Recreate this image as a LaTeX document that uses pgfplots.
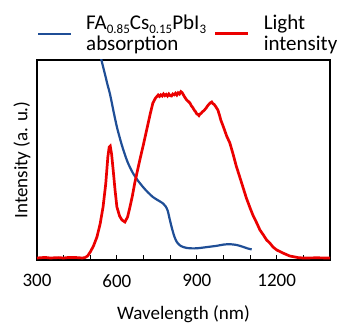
\documentclass[border=0pt]{standalone}
\usepackage{fontspec}
\setmainfont{Carlito}
\usepackage{pgfplots}
\pgfplotsset{compat=1.18}
\definecolor{absblue}{RGB}{31,78,150}
\definecolor{lightred}{RGB}{235,0,0}
\newcommand{\sub}[1]{\raisebox{-3.5pt}{\fontsize{13}{13}\selectfont #1}}
\begin{document}
\begin{tikzpicture}[font=\fontsize{19}{20}\selectfont]
\begin{axis}[
  name=ax,
  scale only axis,
  width=293pt, height=200pt,
  xmin=300, xmax=1400, ymin=0, ymax=1,
  xtick={300,600,900,1200},
  minor xtick={400,500,700,800,1000,1100,1300},
  xtick pos=bottom,
  ytick=\empty,
  tick align=inside,
  major tick length=5pt, minor tick length=5pt,
  every tick/.style={black, line width=0.9pt},
  axis line style={black, line width=1.2pt},
  /pgf/number format/assume math mode=true,
  /pgf/number format/1000 sep={},
  xticklabel style={font=\fontsize{19}{20}\selectfont, yshift=-11pt},
  xlabel={Wavelength (nm)},
  ylabel={Intensity (a. u.)},
  xlabel style={yshift=-11pt},
  ylabel style={yshift=3pt},
  legend columns=2,
  legend style={draw=none, fill=none, at={(axis description cs:0,1)}, anchor=south west,
    inner sep=0pt, outer sep=0pt, yshift=6pt,
    cells={align=left, anchor=west, inner sep=0pt},
    /tikz/every odd column/.append style={column sep=12pt},
    /tikz/every even column/.append style={column sep=6pt},
    font=\fontsize{21}{20.5}\selectfont},
  legend image code/.code={\draw[#1] (0pt,0pt) -- (33pt,0pt);},
]
\addplot[absblue, line width=2.2pt, smooth] coordinates {
(520,1.13) (530,1.075) (542,1.0) (555,0.93) (565,0.875) (574,0.83) (587,0.745) (600,0.665)
(612,0.605) (623,0.555) (640,0.49) (660,0.435) (680,0.395) (698,0.365) (715,0.34)
(735,0.315) (755,0.298) (773,0.283) (783,0.268) (791,0.245) (798,0.205) (806,0.162)
(815,0.12) (825,0.09) (840,0.07) (863,0.06) (890,0.058) (911,0.06) (940,0.065)
(975,0.071) (1000,0.077) (1024,0.079) (1050,0.075) (1073,0.066) (1090,0.058) (1106,0.053)
};
\addlegendentry{FA\sub{0.85}Cs\sub{0.15}PbI\sub{3}\\absorption}
\addplot[lightred, line width=2.7pt] coordinates {
(300,0.01) (330,0.013) (350,0.01) (380,0.012) (400,0.01) (420,0.013) (450,0.012) (470,0.01) (480,0.012)
(490,0.02) (500,0.04) (512,0.07) (525,0.115) (537,0.18) (548,0.265) (558,0.38) (566,0.515)
(571,0.565) (575,0.57) (580,0.53) (586,0.45) (593,0.35) (600,0.265) (610,0.22) (619,0.2)
(630,0.19) (640,0.215) (649,0.265) (658,0.32) (667,0.385) (676,0.44) (686,0.5) (700,0.58)
(715,0.67) (725,0.73) (735,0.785) (745,0.81) (755,0.825) (760,0.818) (765,0.826) (770,0.82) (775,0.83) (780,0.822) (785,0.828)
(790,0.82) (795,0.83) (800,0.822) (805,0.82) (810,0.83) (815,0.826) (820,0.834) (825,0.825) (830,0.836) (835,0.83) (840,0.842) (844,0.838) (848,0.83) (852,0.82) (857,0.81) (862,0.8)
(868,0.793) (874,0.785) (880,0.77) (885,0.762) (890,0.75) (895,0.742) (900,0.73) (904,0.728) (908,0.722) (912,0.73) (916,0.733) (920,0.74) (925,0.745) (930,0.752) (935,0.76) (940,0.77)
(945,0.778) (950,0.785) (956,0.79) (960,0.782) (965,0.778) (972,0.765) (979,0.75) (985,0.725) (990,0.7) (1000,0.665)
(1012,0.62) (1024,0.585) (1036,0.53) (1048,0.47) (1060,0.42) (1073,0.365) (1086,0.31)
(1100,0.26) (1112,0.22) (1125,0.185) (1137,0.15) (1150,0.125) (1162,0.1) (1174,0.085)
(1186,0.065) (1200,0.05) (1223,0.035) (1249,0.02) (1280,0.012) (1300,0.01) (1350,0.011) (1400,0.01)
};
\addlegendentry{Light\\intensity}
\end{axis}
\pgfresetboundingbox
\path[use as bounding box] ([shift={(-37pt,-64pt)}]ax.south west) rectangle ([shift={(7pt,60pt)}]ax.north east);
\end{tikzpicture}
\end{document}
